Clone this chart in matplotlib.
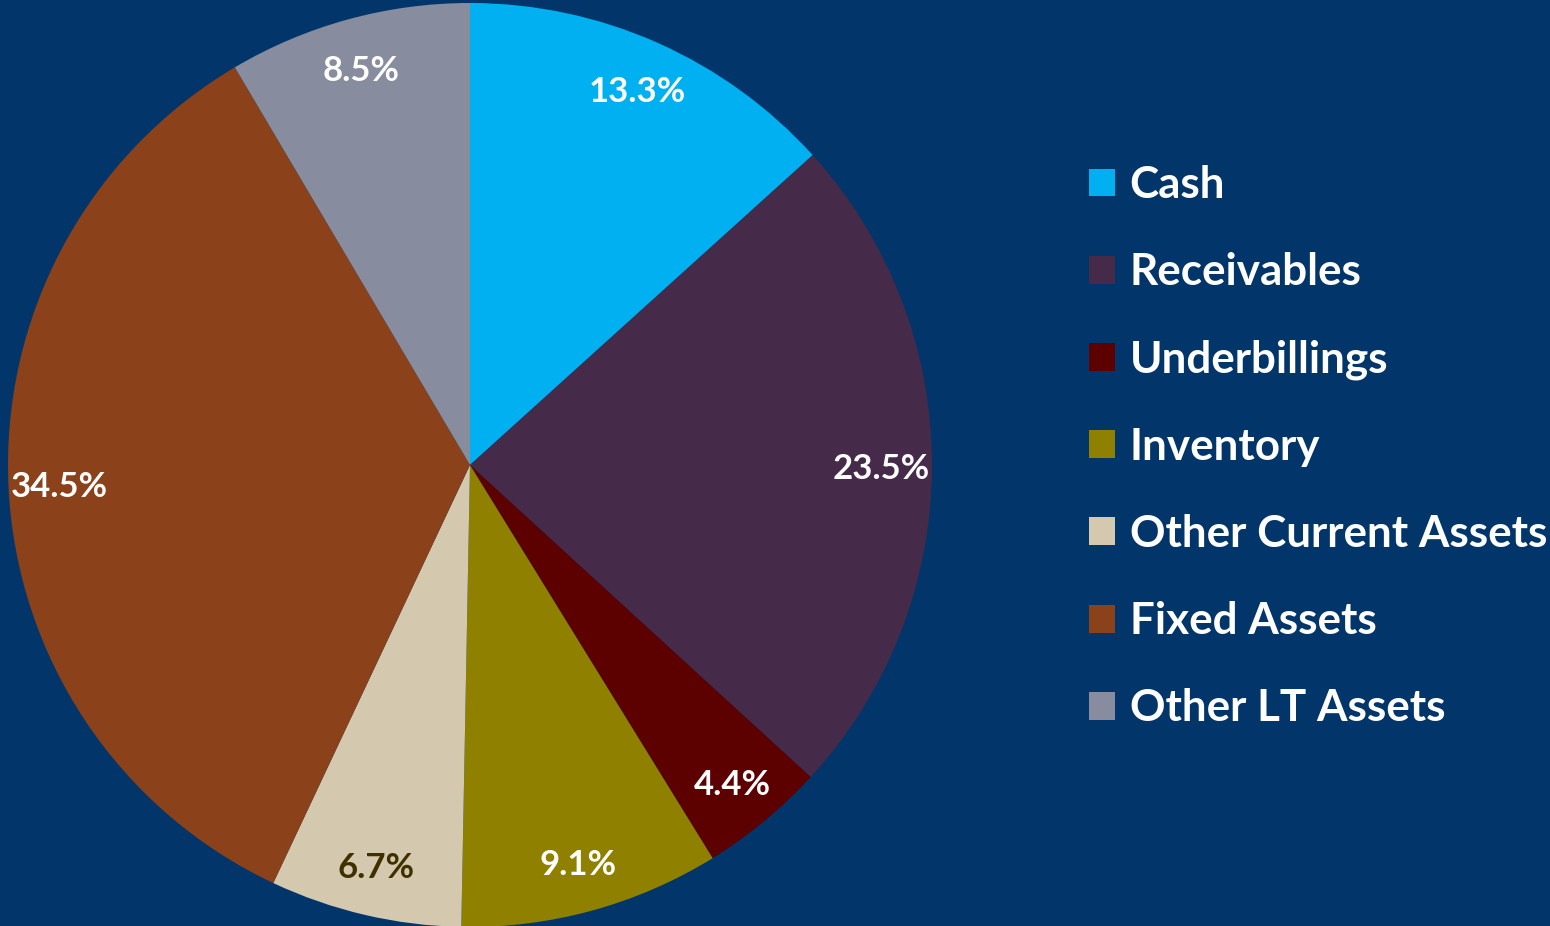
import matplotlib.pyplot as plt
from matplotlib.patches import Patch

# data
categories = ['Cash', 'Receivables', 'Underbillings', 'Inventory',
              'Other Current Assets', 'Fixed Assets', 'Other LT Assets']
shares = [13.3, 23.5, 4.4, 9.1, 6.7, 34.5, 8.5]
colors = ['#00B0F0', '#462A4A', '#5C0000', '#8F8000',
          '#D4C9AE', '#8B4119', '#878C9E']
label_colors = ['white', 'white', 'white', 'white', '#3F3000', 'white', 'white']
bg = '#02366A'

plt.rcParams['font.family'] = ['Lato', 'DejaVu Sans']

fig = plt.figure(figsize=(15.5, 9.26), dpi=100, facecolor=bg)
W, H = 1550, 926
cx, cy, r = 470, 465, 462
ax = fig.add_axes([(cx - r) / W, (H - cy - r) / H, 2 * r / W, 2 * r / H])
ax.set_facecolor(bg)

wedges, texts, autotexts = ax.pie(
    shares, colors=colors, startangle=90, counterclock=False,
    autopct='%1.1f%%', pctdistance=0.89, radius=1,
    wedgeprops=dict(linewidth=0),
    textprops=dict(fontsize=25, fontweight='bold', va='center_baseline'))
for t, c in zip(autotexts, label_colors):
    t.set_color(c)
ax.set_xlim(-1, 1)
ax.set_ylim(-1, 1)
ax.set_aspect('equal')
ax.axis('off')

handles = [Patch(facecolor=c, edgecolor='none') for c in colors]
leg = fig.legend(handles, categories, loc='upper left',
                 bbox_to_anchor=(1089 / W, 1 - 165 / H),
                 frameon=False, prop=dict(weight='bold', size=31.7),
                 handlelength=0.6, handleheight=0.6, handletextpad=0.32,
                 labelspacing=1.07, borderpad=0, borderaxespad=0)
for t in leg.get_texts():
    t.set_color('white')

fig.savefig('out.png', dpi=100, facecolor=bg)
